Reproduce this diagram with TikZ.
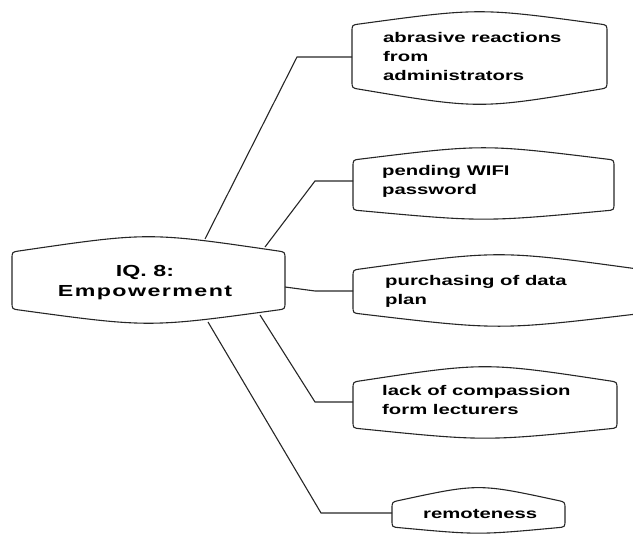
\documentclass[tikz,border=0pt]{standalone}
\usepackage{fontspec}
\newfontfamily\boxfont{Liberation Sans}[FakeStretch=1.45]

% Barrel-shaped outline: vertical sides, bulging top and bottom, rounded corners.
% #1 left x, #2 right x, #3 top y at corners, #4 top y at middle,
% #5 bottom y at corners, #6 bottom y at middle (y grows downwards).
\newcommand\drawbarrel[6]{%
  \pgfmathsetmacro\bmid{(#1+#2)/2}%
  \pgfmathsetmacro\tctl{(8*#4-2*#3)/6}%
  \pgfmathsetmacro\bctl{(8*#6-2*#5)/6}%
  \pgfmathsetmacro\tdy{7*(#3-\tctl)/(\bmid-#1)}%
  \pgfmathsetmacro\bdy{7*(\bctl-#5)/(\bmid-#1)}%
  \draw[boxline] (#1,#3+7) .. controls (#1,#3) .. (#1+7,#3-\tdy)
    .. controls (\bmid,\tctl) .. (#2-7,#3-\tdy)
    .. controls (#2,#3) .. (#2,#3+7) -- (#2,#5-7)
    .. controls (#2,#5) .. (#2-7,#5+\bdy)
    .. controls (\bmid,\bctl) .. (#1+7,#5+\bdy)
    .. controls (#1,#5) .. (#1,#5-7) -- cycle;}

\tikzset{
  boxline/.style={draw=black!85, line width=1.1pt},
  link/.style={draw=black!85, line width=1.1pt},
  % anchored at the baseline of the last line
  leaf/.style={anchor=base west, align=left, inner sep=0pt,
    font=\boxfont\bfseries\fontsize{14}{19}\selectfont},
  hub/.style={anchor=base, align=center, inner sep=0pt,
    font=\boxfont\bfseries\fontsize{16}{20}\selectfont},
}

\begin{document}
\begin{tikzpicture}[x=1pt, y=-1pt]
\useasboundingbox (0,0) rectangle (633,534);
\clip (0,0) rectangle (633,534);

% outlines
\drawbarrel{12}{285}{252}{237}{309}{323}
\drawbarrel{352}{607}{25}{12}{88}{104}
\drawbarrel{353}{614}{160}{148}{210}{219}
\drawbarrel{353}{645}{270}{255}{313}{326}
\drawbarrel{353}{617}{382}{367}{428}{438}
\drawbarrel{392}{565}{502}{488}{527}{533}

% labels
\node[hub]  (hub)  at (145,297) {IQ. 8:\\{\addfontfeature{LetterSpace=9}Empowerment}};
\node[leaf] (abr)  at (383,81)  {abrasive reactions\\from\\administrators};
\node[leaf] (wifi) at (382,195) {pending WIFI\\password};
\node[leaf] (data) at (385,305) {purchasing of data\\plan};
\node[leaf] (lack) at (382,415) {lack of compassion\\form lecturers};
\node[leaf] (rem)  at (423,519) {remoteness};

% attachment points on the outlines
\coordinate (h1) at (205,239);
\coordinate (h2) at (265,247);
\coordinate (h3) at (285,287);
\coordinate (h4) at (260,315);
\coordinate (h5) at (208,322);
\coordinate (e1) at (352,57);
\coordinate (e2) at (353,181);
\coordinate (e3) at (353,291);
\coordinate (e4) at (353,402);
\coordinate (e5) at (392,513);
% elbows
\coordinate (k1) at (297,57);
\coordinate (k2) at (315,181);
\coordinate (k3) at (315,291);
\coordinate (k4) at (315,402);
\coordinate (k5) at (321,513);

% connectors
\draw[link] (h1) -- (k1) -- (e1);
\draw[link] (h2) -- (k2) -- (e2);
\draw[link] (h3) -- (k3) -- (e3);
\draw[link] (h4) -- (k4) -- (e4);
\draw[link] (h5) -- (k5) -- (e5);
\end{tikzpicture}
\end{document}
